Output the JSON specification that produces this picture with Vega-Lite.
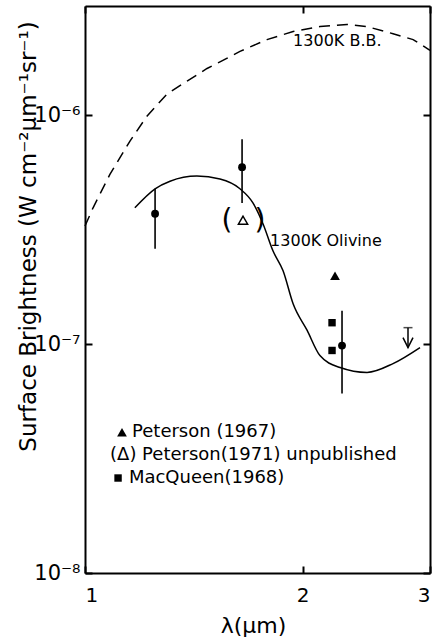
{
  "$schema": "https://vega.github.io/schema/vega-lite/v6.json",
  "width": 345,
  "height": 567,
  "autosize": {"type": "none"},
  "padding": {"left": 85, "top": 6, "right": 9, "bottom": 64},
  "background": "white",
  "config": {
    "view": {"stroke": null},
    "font": "DejaVu Sans",
    "axis": {
      "domainColor": "black",
      "domainWidth": 2,
      "tickColor": "black",
      "tickWidth": 2,
      "tickSize": -7,
      "grid": false,
      "labelColor": "black",
      "labelFont": "DejaVu Sans",
      "titleFont": "DejaVu Sans",
      "titleColor": "black",
      "titleFontWeight": "normal"
    }
  },
  "datasets": {
    "bb": [
      {"lam": 1.0, "val": 3.28e-7},
      {"lam": 1.026, "val": 3.94e-7},
      {"lam": 1.083, "val": 5.53e-7},
      {"lam": 1.154, "val": 7.71e-7},
      {"lam": 1.218, "val": 9.9e-7},
      {"lam": 1.298, "val": 1.236e-6},
      {"lam": 1.384, "val": 1.41e-6},
      {"lam": 1.475, "val": 1.6e-6},
      {"lam": 1.537, "val": 1.71e-6},
      {"lam": 1.638, "val": 1.9e-6},
      {"lam": 1.785, "val": 2.14e-6},
      {"lam": 1.94, "val": 2.32e-6},
      {"lam": 2.114, "val": 2.44e-6},
      {"lam": 2.303, "val": 2.49e-6},
      {"lam": 2.454, "val": 2.44e-6},
      {"lam": 2.667, "val": 2.27e-6},
      {"lam": 2.843, "val": 2.14e-6},
      {"lam": 3.0, "val": 1.92e-6}
    ],
    "olivine": [
      {"lam": 1.172, "val": 3.94e-7},
      {"lam": 1.25, "val": 4.77e-7},
      {"lam": 1.311, "val": 5.15e-7},
      {"lam": 1.428, "val": 5.42e-7},
      {"lam": 1.537, "val": 5.26e-7},
      {"lam": 1.638, "val": 4.77e-7},
      {"lam": 1.707, "val": 4.14e-7},
      {"lam": 1.763, "val": 3.35e-7},
      {"lam": 1.82, "val": 2.55e-7},
      {"lam": 1.879, "val": 2.09e-7},
      {"lam": 1.94, "val": 1.5e-7},
      {"lam": 2.028, "val": 1.15e-7},
      {"lam": 2.113, "val": 8.91e-8},
      {"lam": 2.253, "val": 7.9e-8},
      {"lam": 2.455, "val": 7.52e-8},
      {"lam": 2.667, "val": 8.22e-8},
      {"lam": 2.906, "val": 9.66e-8}
    ],
    "errs": [
      {"lam": 1.25, "lo": 2.61e-7, "hi": 4.77e-7},
      {"lam": 1.649, "lo": 4.14e-7, "hi": 7.85e-7},
      {"lam": 2.267, "lo": 6.08e-8, "hi": 1.4e-7}
    ],
    "ulim": [
      {"lam": 2.797, "top": 1.18e-7, "bot": 9.66e-8}
    ],
    "pts": [
      {"lam": 1.25, "val": 3.71e-7, "src": "observed"},
      {"lam": 1.649, "val": 5.93e-7, "src": "observed"},
      {"lam": 2.267, "val": 9.85e-8, "src": "observed"},
      {"lam": 2.217, "val": 1.99e-7, "src": "Peterson (1967)"},
      {"lam": 2.196, "val": 1.24e-7, "src": "MacQueen (1968)"},
      {"lam": 2.196, "val": 9.38e-8, "src": "MacQueen (1968)"},
      {"lam": 1.125, "val": 4.12e-8, "src": "Peterson (1967)"},
      {"lam": 1.111, "val": 2.6e-8, "src": "MacQueen (1968)"}
    ],
    "open": [
      {"lam": 1.654, "val": 3.48e-7, "src": "Peterson (1971)"}
    ],
    "parens": [
      {"lam": 1.572, "val": 3.45e-7, "label": "("},
      {"lam": 1.746, "val": 3.45e-7, "label": ")"}
    ],
    "curvelabels": [
      {"lam": 1.94, "val": 2.1e-6, "label": "1300K B.B."},
      {"lam": 1.803, "val": 2.83e-7, "label": "1300K Olivine"}
    ],
    "legend": [
      {"lam": 1.1616, "val": 4.12e-8, "label": "Peterson (1967)"},
      {"lam": 1.083, "val": 3.27e-8, "label": "(Δ) Peterson(1971) unpublished"},
      {"lam": 1.15, "val": 2.6e-8, "label": "MacQueen(1968)"}
    ]
  },
  "layer": [
    {
      "data": {"name": "bb"},
      "mark": {"type": "line", "stroke": "black", "strokeWidth": 1.5, "strokeDash": [11, 7]},
      "encoding": {
        "x": {
          "field": "lam", "type": "quantitative",
          "scale": {"type": "log", "domain": [1, 3], "nice": false},
          "axis": {
            "orient": "bottom", "values": [1, 2, 3], "format": "d",
            "labelFontSize": 20, "labelPadding": 19,
            "title": "λ(μm)", "titleFontSize": 22,
            "titleX": 168, "titleY": 59, "titleBaseline": "alphabetic"
          }
        },
        "y": {
          "field": "val", "type": "quantitative",
          "scale": {"type": "log", "domain": [1e-8, 3e-6], "nice": false},
          "axis": {
            "orient": "left", "values": [1e-8, 1e-7, 1e-6],
            "labelExpr": "datum.value > 5e-7 ? '10⁻⁶' : datum.value > 5e-8 ? '10⁻⁷' : '10⁻⁸'",
            "labelFontSize": 21, "labelPadding": 12,
            "title": "Surface Brightness (W cm⁻²μm⁻¹sr⁻¹)", "titleFontSize": 23,
            "titleAngle": 270, "titleX": -50, "titleY": 230,
            "titleAlign": "center", "titleBaseline": "alphabetic"
          }
        }
      }
    },
    {
      "data": {"name": "olivine"},
      "mark": {"type": "line", "stroke": "black", "strokeWidth": 1.5, "interpolate": "monotone"},
      "encoding": {
        "x": {
          "field": "lam", "type": "quantitative",
          "scale": {"type": "log", "domain": [1, 3], "nice": false},
          "axis": {"orient": "top", "values": [1, 2, 3], "labels": false, "title": null}
        },
        "y": {
          "field": "val", "type": "quantitative",
          "scale": {"type": "log", "domain": [1e-8, 3e-6], "nice": false},
          "axis": {"orient": "right", "values": [1e-8, 1e-7, 1e-6], "labels": false, "title": null}
        }
      }
    },
    {
      "data": {"name": "errs"},
      "mark": {"type": "rule", "stroke": "black", "strokeWidth": 1.6},
      "encoding": {
        "x": {"field": "lam", "type": "quantitative", "scale": {"type": "log", "domain": [1, 3], "nice": false}, "axis": null},
        "y": {"field": "lo", "type": "quantitative", "scale": {"type": "log", "domain": [1e-8, 3e-6], "nice": false}, "axis": null},
        "y2": {"field": "hi"}
      }
    },
    {
      "data": {"name": "ulim"},
      "mark": {"type": "rule", "stroke": "black", "strokeWidth": 1.5},
      "encoding": {
        "x": {"field": "lam", "type": "quantitative", "scale": {"type": "log", "domain": [1, 3], "nice": false}, "axis": null},
        "y": {"field": "top", "type": "quantitative", "scale": {"type": "log", "domain": [1e-8, 3e-6], "nice": false}, "axis": null},
        "y2": {"field": "bot"}
      }
    },
    {
      "data": {"name": "ulim"},
      "mark": {"type": "tick", "orient": "horizontal", "color": "black", "size": 9, "thickness": 1.5},
      "encoding": {
        "x": {"field": "lam", "type": "quantitative", "scale": {"type": "log", "domain": [1, 3], "nice": false}, "axis": null},
        "y": {"field": "top", "type": "quantitative", "scale": {"type": "log", "domain": [1e-8, 3e-6], "nice": false}, "axis": null}
      }
    },
    {
      "data": {"name": "ulim"},
      "mark": {"type": "point", "shape": "M -0.5 -1 L 0 0 L 0.5 -1", "filled": false, "stroke": "black", "strokeWidth": 1.5, "size": 400, "opacity": 1},
      "encoding": {
        "x": {"field": "lam", "type": "quantitative", "scale": {"type": "log", "domain": [1, 3], "nice": false}, "axis": null},
        "y": {"field": "bot", "type": "quantitative", "scale": {"type": "log", "domain": [1e-8, 3e-6], "nice": false}, "axis": null}
      }
    },
    {
      "data": {"name": "pts"},
      "mark": {"type": "point", "filled": true, "color": "black", "opacity": 1},
      "encoding": {
        "x": {"field": "lam", "type": "quantitative", "scale": {"type": "log", "domain": [1, 3], "nice": false}, "axis": null},
        "y": {"field": "val", "type": "quantitative", "scale": {"type": "log", "domain": [1e-8, 3e-6], "nice": false}, "axis": null},
        "shape": {
          "field": "src", "type": "nominal",
          "scale": {"domain": ["observed", "Peterson (1967)", "MacQueen (1968)"], "range": ["circle", "triangle-up", "square"]},
          "legend": null
        },
        "size": {
          "field": "src", "type": "nominal",
          "scale": {"type": "ordinal", "domain": ["observed", "Peterson (1967)", "MacQueen (1968)"], "range": [62, 95, 55]},
          "legend": null
        }
      }
    },
    {
      "data": {"name": "open"},
      "mark": {"type": "point", "shape": "triangle-up", "filled": false, "stroke": "black", "strokeWidth": 1.5, "size": 85, "opacity": 1},
      "encoding": {
        "x": {"field": "lam", "type": "quantitative", "scale": {"type": "log", "domain": [1, 3], "nice": false}, "axis": null},
        "y": {"field": "val", "type": "quantitative", "scale": {"type": "log", "domain": [1e-8, 3e-6], "nice": false}, "axis": null}
      }
    },
    {
      "data": {"name": "parens"},
      "mark": {"type": "text", "font": "DejaVu Sans", "fontSize": 28, "align": "center", "baseline": "middle", "color": "black"},
      "encoding": {
        "x": {"field": "lam", "type": "quantitative", "scale": {"type": "log", "domain": [1, 3], "nice": false}, "axis": null},
        "y": {"field": "val", "type": "quantitative", "scale": {"type": "log", "domain": [1e-8, 3e-6], "nice": false}, "axis": null},
        "text": {"field": "label"}
      }
    },
    {
      "data": {"name": "curvelabels"},
      "mark": {"type": "text", "font": "DejaVu Sans", "fontSize": 16, "align": "left", "baseline": "middle", "color": "black"},
      "encoding": {
        "x": {"field": "lam", "type": "quantitative", "scale": {"type": "log", "domain": [1, 3], "nice": false}, "axis": null},
        "y": {"field": "val", "type": "quantitative", "scale": {"type": "log", "domain": [1e-8, 3e-6], "nice": false}, "axis": null},
        "text": {"field": "label"}
      }
    },
    {
      "data": {"name": "legend"},
      "mark": {"type": "text", "font": "DejaVu Sans", "fontSize": 18, "align": "left", "baseline": "middle", "color": "black"},
      "encoding": {
        "x": {"field": "lam", "type": "quantitative", "scale": {"type": "log", "domain": [1, 3], "nice": false}, "axis": null},
        "y": {"field": "val", "type": "quantitative", "scale": {"type": "log", "domain": [1e-8, 3e-6], "nice": false}, "axis": null},
        "text": {"field": "label"}
      }
    }
  ],
  "resolve": {"axis": {"x": "independent", "y": "independent"}}
}
